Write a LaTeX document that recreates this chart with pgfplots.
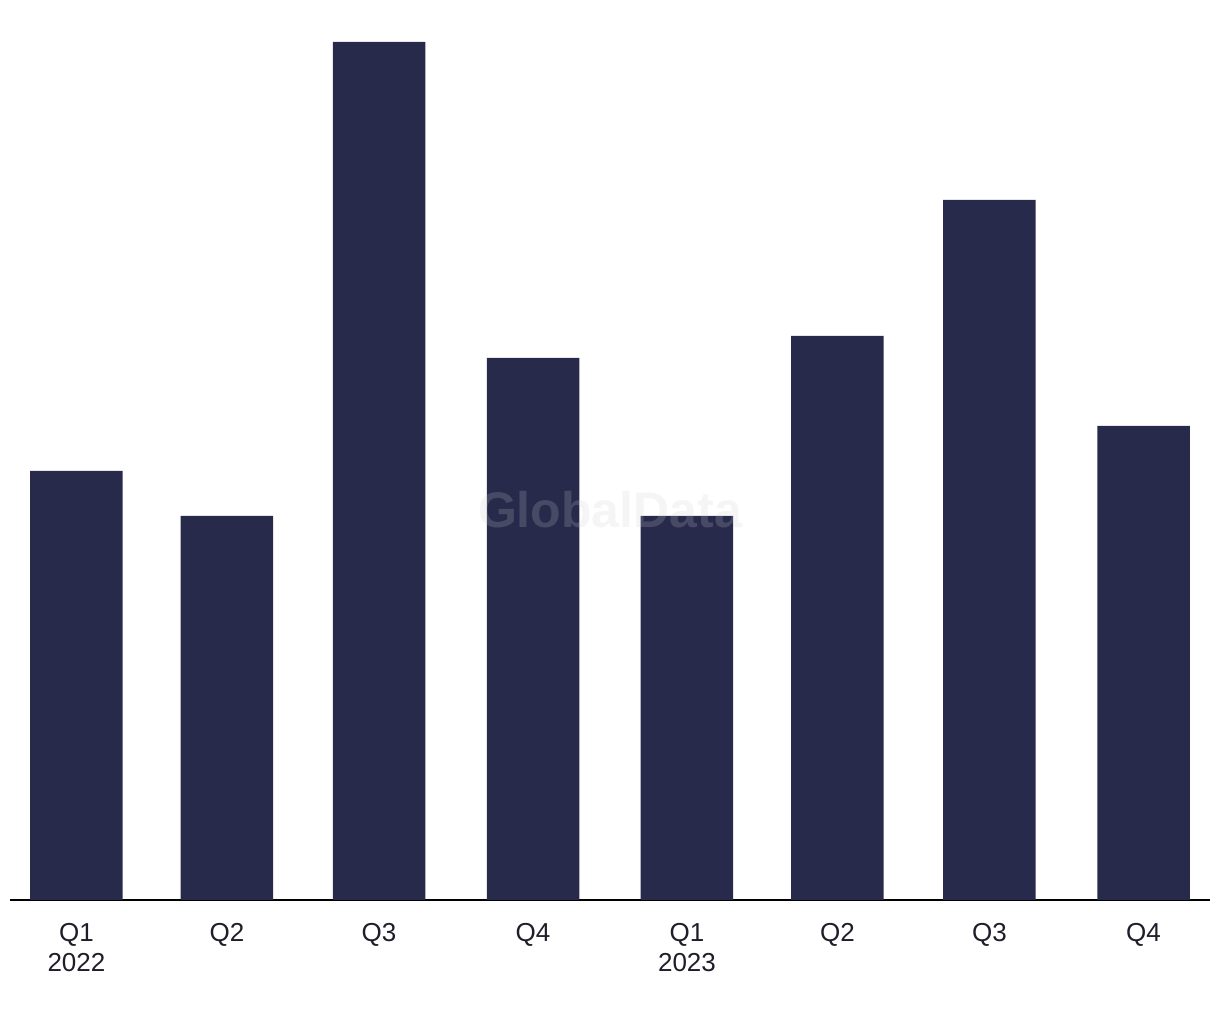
\documentclass[border=0pt]{standalone}
\usepackage{pgfplots}
\pgfplotsset{compat=1.18}
\usepackage{fontspec}
\setmainfont{Liberation Sans}
\definecolor{barnavy}{HTML}{282A4C}
\definecolor{labeltxt}{HTML}{1E1E2A}
\begin{document}
\begin{tikzpicture}
\begin{axis}[
  scale only axis,
  width=600pt, height=450pt,
  xmin=-0.436, xmax=7.436,
  ymin=0, ymax=900,
  axis y line=none,
  axis x line*=bottom,
  x axis line style={line width=1pt, color=black, -},
  xtick={0,0.987,1.985,2.995,4.005,4.992,5.989,7},
  xticklabels={{Q1\\2022},Q2,Q3,Q4,{Q1\\2023},Q2,Q3,Q4},
  xticklabel style={align=center, font=\fontsize{13pt}{15pt}\selectfont, text=labeltxt},
  major tick length=0pt,
  xtick style={draw=none},
  xticklabel shift=8pt,
  ybar, bar width=46.25pt,
  clip=false,
]
\addplot[fill=barnavy, draw=none] coordinates {
  (0,429) (0.987,384) (1.985,858) (2.995,542) (4.005,384) (4.992,564) (5.989,700) (7,474)
};
\node[text=gray!40, opacity=0.2, font=\fontsize{25pt}{25pt}\selectfont\bfseries] at (axis cs:3.5,390) {GlobalData};
\coordinate (sw) at (rel axis cs:0,0);
\coordinate (ne) at (rel axis cs:1,1);
\end{axis}
\path (sw) ++(-5pt,-60pt) coordinate (a);
\path (ne) ++(5pt,0pt) coordinate (b);
\path (a) rectangle (b);
\end{tikzpicture}
\end{document}
